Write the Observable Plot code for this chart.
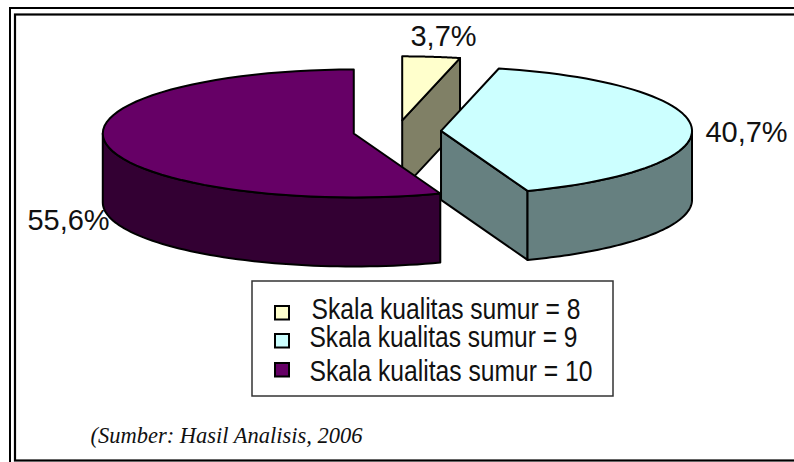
<!DOCTYPE html>
<html><head><meta charset="utf-8">
<style>html,body{margin:0;padding:0;background:#fff}svg{display:block}</style>
<script src="https://cdn.jsdelivr.net/npm/d3@7"></script>
<script src="https://cdn.jsdelivr.net/npm/@observablehq/plot@0.6"></script>
</head><body><div id="chart"></div>
<script>
const categories = ["Skala kualitas sumur = 8","Skala kualitas sumur = 9","Skala kualitas sumur = 10"];
const shares = [3.7, 40.7, 55.6];
const shareLabels = ["3,7%","40,7%","55,6%"];
const topColors = ["#FFFFCC","#CCFFFF","#660066"];
const sideColors = ["#808066","#668080","#330033"];
const caption = "(Sumber: Hasil Analisis, 2006";

const W=794,H=462, CX=396.6, CY=131, RX=251, RY=64, DEPTH=69, EXPLODE=44;
const total=d3.sum(shares);
let acc=0;
const slices=shares.map((v,i)=>{const a0=acc/total*2*Math.PI;acc+=v;const a1=acc/total*2*Math.PI;
  const m=(a0+a1)/2;
  return {i,a0,a1,cx:CX+EXPLODE*Math.sin(m),cy:CY-EXPLODE*Math.cos(m)*RY/RX};});
const pt=(s,a,dz=0)=>({x:s.cx+RX*Math.sin(a),y:s.cy-RY*Math.cos(a)+dz});
const arc=(s,a0,a1,dz=0)=>d3.range(0,61).map(k=>pt(s,a0+(a1-a0)*k/60,dz));
const apex=(s,dz=0)=>({x:s.cx,y:s.cy+dz});
function topFace(s){return [apex(s),...arc(s,s.a0,s.a1)];}
function radialFace(s,a){return [apex(s),pt(s,a),pt(s,a,DEPTH),apex(s,DEPTH)];}
function outerSide(s,a0,a1){return [...arc(s,a0,a1),...arc(s,a1,a0,DEPTH)];}
const poly=(pts,fill)=>Plot.line(pts,{x:"x",y:"y",curve:"linear-closed",fill,stroke:"#000",strokeWidth:2,strokeLinejoin:"round"});

const [sy,sc,sp]=slices;
const pieMarks=[
  poly(radialFace(sy,sy.a1),sideColors[0]), poly(topFace(sy),topColors[0]),
  poly(radialFace(sc,sc.a1),sideColors[1]), poly(outerSide(sc,Math.PI/2,sc.a1),sideColors[1]), poly(topFace(sc),topColors[1]),
  poly(outerSide(sp,sp.a0,3*Math.PI/2),sideColors[2]), poly(topFace(sp),topColors[2])
];
const labelPos=[[443,36],[746,132],[68,220]];
const legendRows=[318,346,380], legendText=[311,309,309], legendWidths=[269,268,283], swatchY=[306,334,363];

const rect=(x1,y1,x2,y2,o)=>Plot.rect([{x1,y1,x2,y2}],{x1:"x1",y1:"y1",x2:"x2",y2:"y2",...o});

const svg=Plot.plot({width:W,height:H,margin:0,
  x:{domain:[0,W],range:[0,W],axis:null},y:{domain:[0,H],range:[0,H],axis:null},
  marks:[
    rect(10,8,810,480,{fill:"none",stroke:"#000",strokeWidth:2}),
    rect(15,14.5,810,460.5,{fill:"none",stroke:"#000",strokeWidth:2.2}),
    ...pieMarks,
    Plot.text(shareLabels,{x:(d,i)=>labelPos[i][0],y:(d,i)=>labelPos[i][1],text:d=>d,fontSize:29,fill:"#111",fontFamily:"'Liberation Sans'",textAnchor:"middle"}),
    rect(252,281,613,396,{fill:"#fff",stroke:"#333",strokeWidth:1.5}),
    ...categories.map((c,i)=>rect(275,swatchY[i],289,swatchY[i]+13.5,{fill:topColors[i],stroke:"#000",strokeWidth:2})),
    Plot.text(categories,{x:(d,i)=>legendText[i],y:(d,i)=>legendRows[i],text:d=>d,fontSize:30,fill:"#111",fontFamily:"'Liberation Sans'",textAnchor:"start",lineAnchor:"bottom"}),
    Plot.text([caption],{x:90,y:442,text:d=>d,fontSize:22.5,fontStyle:"italic",fill:"#111",fontFamily:"'Liberation Serif'",textAnchor:"start",lineAnchor:"bottom"})
  ]});
// The legend's type is condensed in the reference: fit each row to its measured width.
d3.select(svg).selectAll("text tspan, text").each(function(){
  const i=categories.indexOf(this.textContent);
  if(i>=0 && !this.querySelector("tspan")){this.setAttribute("textLength",legendWidths[i]);this.setAttribute("lengthAdjust","spacingAndGlyphs");}
});
document.getElementById("chart").append(svg);
</script></body></html>
